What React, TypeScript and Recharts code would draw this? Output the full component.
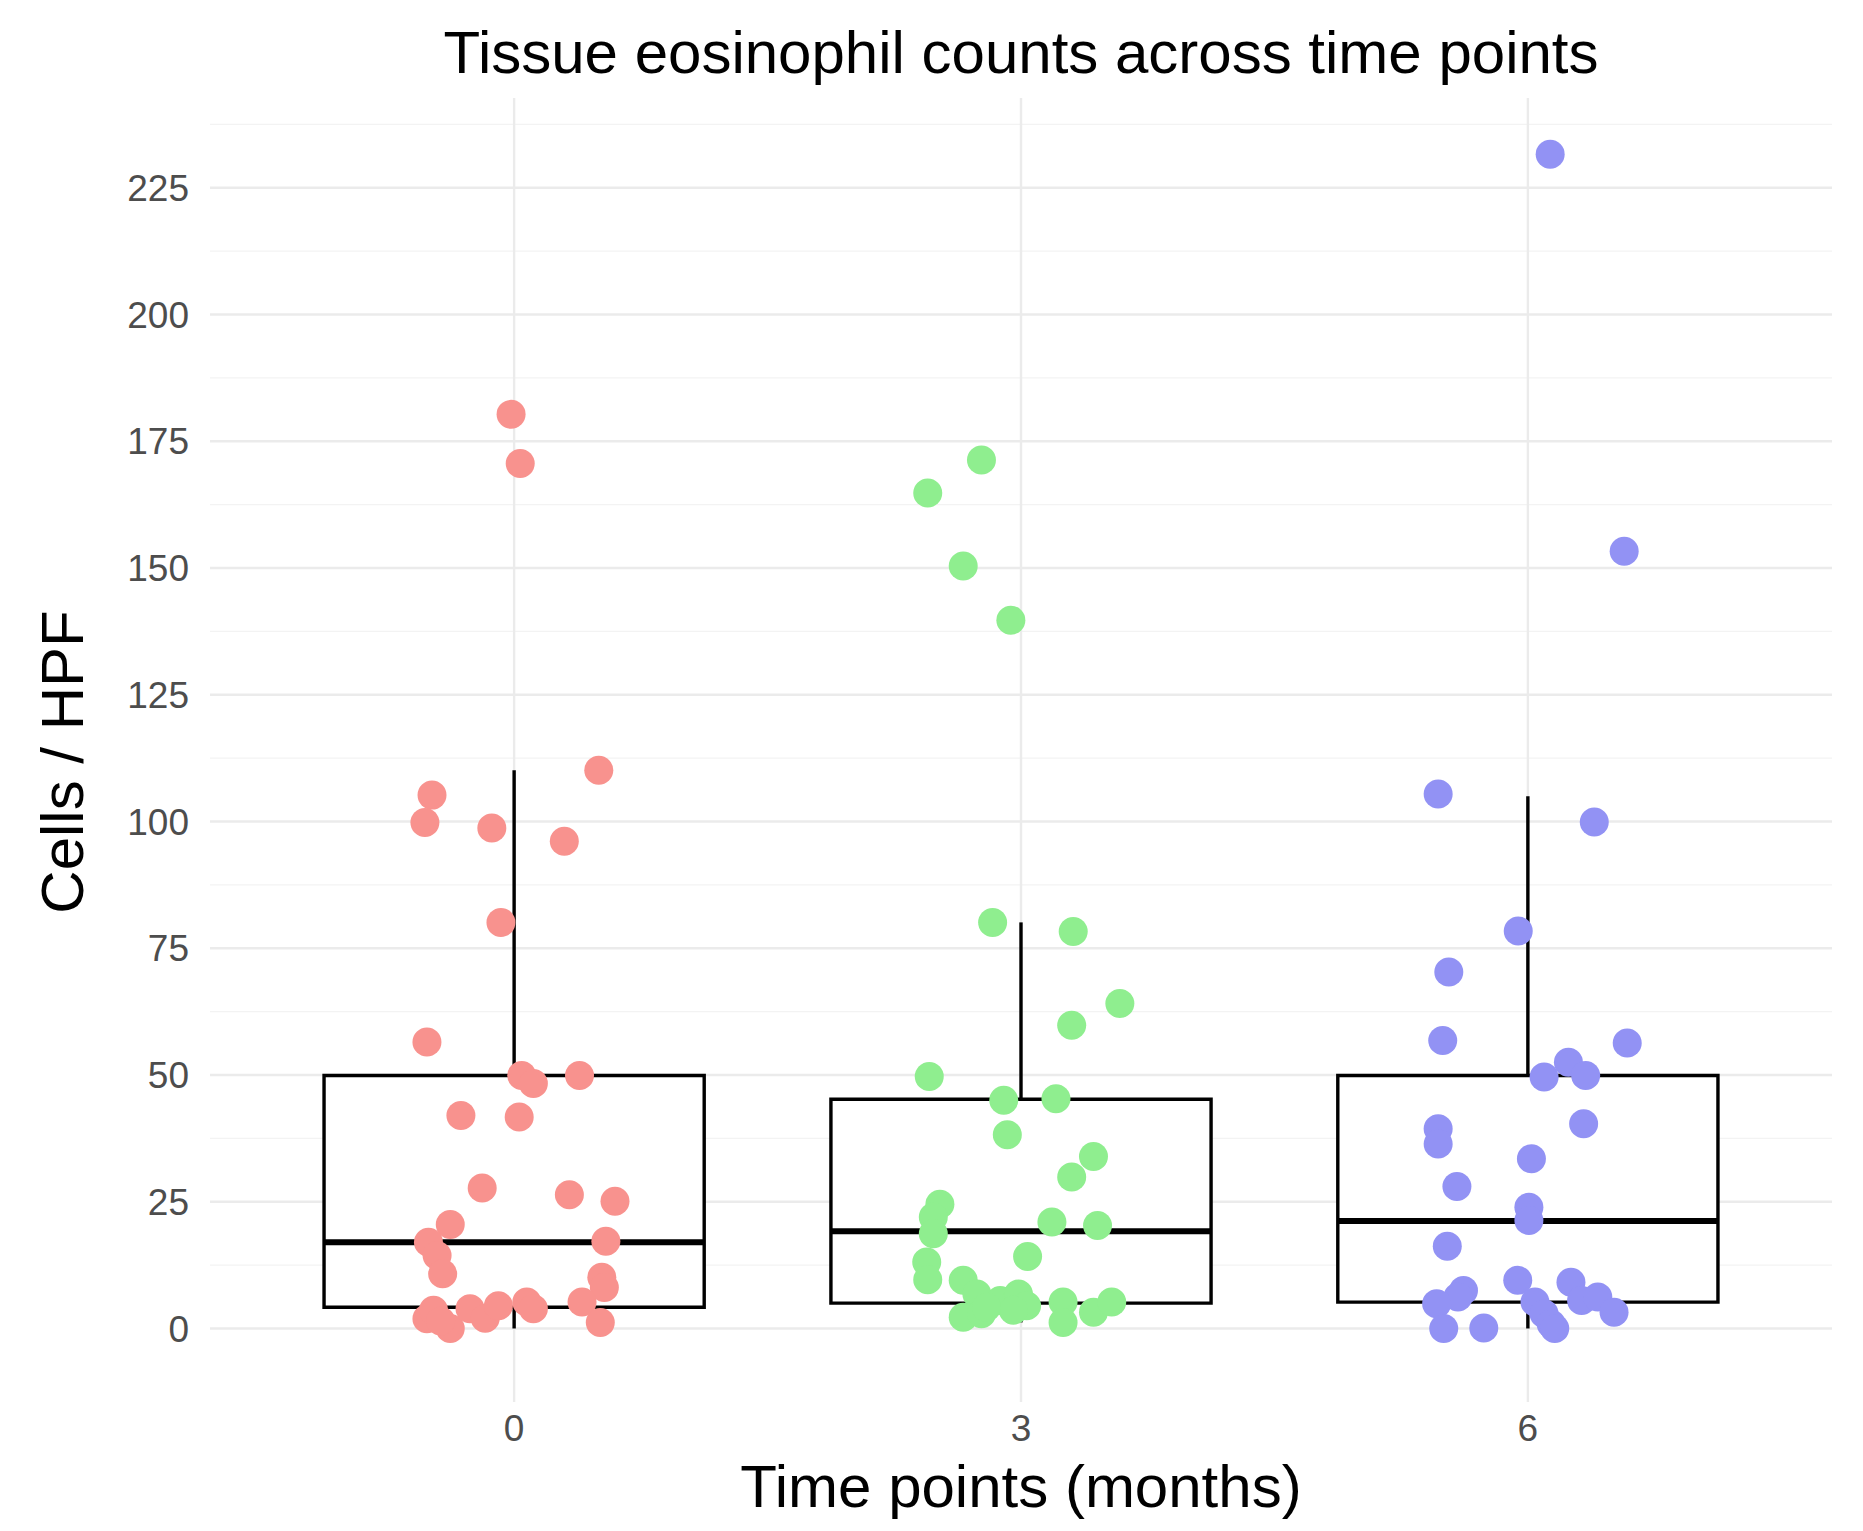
import React from 'react'
import { ScatterChart, Scatter, XAxis, YAxis, CartesianGrid, ReferenceArea, ReferenceLine, Label } from 'recharts'

const TIME_LABELS = ['0', '3', '6']
const Y_TICKS = [0, 25, 50, 75, 100, 125, 150, 175, 200, 225]
const Y_MINOR = [12.5, 37.5, 62.5, 87.5, 112.5, 137.5, 162.5, 187.5, 212.5, 237.5]

// per-patient counts (cells / HPF) and the horizontal jitter seen in the picture
const values0 = [180.3, 170.6, 110.1, 105.2, 99.8, 98.7, 96.1, 80.1, 56.5, 49.9, 48.3, 49.9, 42.0, 41.7, 27.7, 26.4, 25.1, 20.5, 17.0, 14.4, 10.8, 17.2, 10.1, 8.1, 5.2, 1.2, 1.9, 3.6, 0, 1.5, 3.9, 2.0, 4.5, 5.2, 3.9]
const jitter0 = [-0.006, 0.012, 0.167, -0.162, -0.176, -0.044, 0.099, -0.026, -0.172, 0.015, 0.038, 0.129, -0.105, 0.01, -0.063, 0.109, 0.199, -0.126, -0.169, -0.152, -0.141, 0.181, 0.173, 0.178, 0.134, 0.17, -0.172, -0.159, -0.126, -0.145, -0.087, -0.057, -0.031, 0.025, 0.038]

const values3 = [171.3, 164.8, 150.4, 139.7, 80.1, 78.3, 64.1, 59.8, 49.7, 45.0, 45.3, 38.2, 33.9, 29.9, 24.5, 22.0, 18.7, 21.0, 20.3, 14.2, 13.1, 9.6, 9.5, 6.8, 2.2, 2.9, 5.5, 6.8, 4.5, 3.6, 5.2, 1.2, 3.2, 5.2, 4.2]
const jitter3 = [-0.078, -0.184, -0.114, -0.02, -0.056, 0.103, 0.195, 0.1, -0.181, -0.034, 0.069, -0.027, 0.143, 0.1, -0.16, -0.173, -0.173, 0.061, 0.151, 0.013, -0.186, -0.184, -0.114, -0.087, -0.114, -0.078, -0.041, -0.005, 0.011, -0.015, 0.083, 0.083, 0.143, 0.179, -0.068]

const values6 = [231.6, 153.3, 105.4, 99.9, 78.4, 70.3, 56.8, 56.3, 49.6, 52.5, 49.9, 39.4, 36.4, 40.4, 33.5, 28.0, 23.9, 21.3, 16.2, 9.5, 9.1, 7.5, 6.2, 4.9, 0, 0.1, 5.2, 2.9, 0.9, 5.5, 6.2, 3.2, 0]
const jitter6 = [0.044, 0.19, -0.177, 0.131, -0.019, -0.156, -0.168, 0.196, 0.032, 0.08, 0.114, -0.177, -0.177, 0.11, 0.007, -0.14, 0.002, 0.002, -0.159, -0.02, 0.085, -0.127, -0.138, -0.18, -0.166, -0.087, 0.014, 0.032, 0.046, 0.106, 0.138, 0.17, 0.053]

// boxplot summary per time point
const whiskerLow = [0, 1.2, 0]
const q1 = [4.2, 5.0, 5.2]
const median = [17.0, 19.2, 21.2]
const q3 = [49.9, 45.2, 49.9]
const whiskerHigh = [110.1, 80.1, 105]

const COLORS = ['#F8928E', '#8FEE8F', '#9292F4']
const FONT = '"Liberation Sans", Arial, Helvetica, sans-serif'
const BOX_HALF = 0.375

const groups = [
  { values: values0, jitter: jitter0 },
  { values: values3, jitter: jitter3 },
  { values: values6, jitter: jitter6 },
]

export default function App() {
  return (
    <div style={{ position: 'absolute', left: 0, top: 0, width: 1863, height: 1531, background: '#fff', fontFamily: FONT }}>
      <div style={{ position: 'absolute', left: 221, top: 23, width: 1600, textAlign: 'center', fontSize: 60, lineHeight: '60px', color: '#000' }}>
        Tissue eosinophil counts across time points
      </div>
      <ScatterChart width={1863} height={1531} margin={{ top: 98, right: 31, bottom: 0, left: 0 }}>
        <CartesianGrid vertical={false} horizontalValues={Y_MINOR} syncWithTicks stroke="#F3F3F3" strokeWidth={1.3} />
        <CartesianGrid horizontalValues={Y_TICKS} verticalValues={[0, 1, 2]} syncWithTicks stroke="#EBEBEB" strokeWidth={2.4} />
        <XAxis
          type="number"
          dataKey="x"
          domain={[-0.6, 2.6]}
          ticks={[0, 1, 2]}
          allowDataOverflow
          tickFormatter={(i: number) => TIME_LABELS[i]}
          height={129}
          axisLine={false}
          tickLine={false}
          tickSize={6}
          tickMargin={7}
          tick={{ fontSize: 37, fill: '#4D4D4D', fontFamily: FONT }}
        >
          <Label
            content={() => (
              <text x={1021} y={1507} textAnchor="middle" fontSize={60} fontFamily={FONT} fill="#000">
                Time points (months)
              </text>
            )}
          />
        </XAxis>
        <YAxis
          type="number"
          dataKey="y"
          domain={[-14.5, 242.7]}
          ticks={Y_TICKS}
          allowDataOverflow
          width={210}
          axisLine={false}
          tickLine={false}
          tickSize={6}
          tickMargin={15}
          tick={{ fontSize: 37, fill: '#4D4D4D', fontFamily: FONT }}
        >
          <Label
            content={() => (
              <text x={62} y={762} transform="rotate(-90 62 762)" textAnchor="middle" dominantBaseline="central" fontSize={60} fontFamily={FONT} fill="#000">
                Cells / HPF
              </text>
            )}
          />
        </YAxis>

        {TIME_LABELS.map((_, i) => (
          <ReferenceLine key={`wl${i}`} segment={[{ x: i, y: whiskerLow[i] }, { x: i, y: q1[i] }]} stroke="#000" strokeWidth={3.4} ifOverflow="visible" />
        ))}
        {TIME_LABELS.map((_, i) => (
          <ReferenceLine key={`wh${i}`} segment={[{ x: i, y: q3[i] }, { x: i, y: whiskerHigh[i] }]} stroke="#000" strokeWidth={3.4} ifOverflow="visible" />
        ))}
        {TIME_LABELS.map((_, i) => (
          <ReferenceArea
            key={`box${i}`}
            x1={i - BOX_HALF}
            x2={i + BOX_HALF}
            y1={q1[i]}
            y2={q3[i]}
            fill="#fff"
            fillOpacity={1}
            stroke="#000"
            strokeWidth={3.4}
            ifOverflow="visible"
          />
        ))}
        {TIME_LABELS.map((_, i) => (
          <ReferenceLine key={`med${i}`} segment={[{ x: i - BOX_HALF, y: median[i] }, { x: i + BOX_HALF, y: median[i] }]} stroke="#000" strokeWidth={6} ifOverflow="visible" />
        ))}

        {groups.map((g, i) => (
          <Scatter
            key={`pts${i}`}
            data={g.values.map((v, k) => ({ x: i + g.jitter[k], y: v }))}
            isAnimationActive={false}
            shape={(p: any) => <circle cx={p.cx} cy={p.cy} r={14.5} fill={COLORS[i]} />}
          />
        ))}
      </ScatterChart>
    </div>
  )
}
